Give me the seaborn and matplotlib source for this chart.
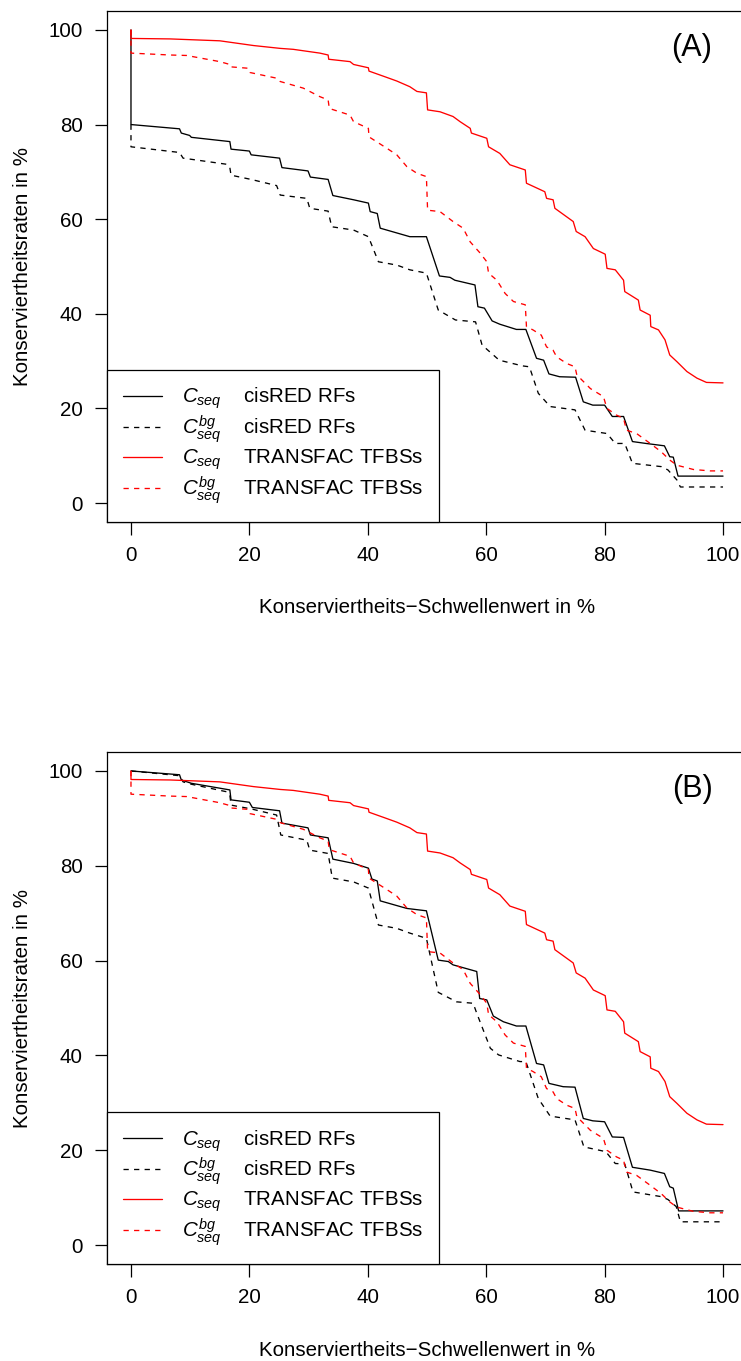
import numpy as np
import pandas as pd
import matplotlib
matplotlib.use("Agg")
import matplotlib.pyplot as plt
import seaborn as sns

# ---------------- data ----------------
# TRANSFAC TFBSs, C_seq (same in both panels)
tf_cseq_x = [0, 0, 6.6, 15.0, 20.7, 25.2, 27.4, 31.9, 33.3, 33.4, 37.0, 37.6, 40.1, 40.2, 42.9, 44.9, 47.1, 48.3, 49.9, 50.1,
             52.2, 54.4, 55.6, 57.3, 57.5, 60.1, 60.4, 62.3, 64.0, 66.6, 66.8, 69.9, 70.2, 71.3, 71.6, 74.7, 75.2, 76.7, 78.1, 80.1,
             80.4, 81.8, 83.2, 83.4, 85.7, 86.0, 87.7, 87.8, 89.1, 90.2, 91.0, 92.2, 93.9, 95.6, 97.2, 100]
tf_cseq_y = [100, 98.2, 98.1, 97.7, 96.7, 96.1, 95.9, 95.1, 94.7, 93.8, 93.3, 92.7, 92.0, 91.3, 90.1, 89.2, 88.0, 87.0, 86.7, 83.1,
             82.7, 81.7, 80.6, 79.2, 78.2, 77.1, 75.3, 73.9, 71.5, 70.4, 67.6, 65.8, 64.4, 64.1, 62.3, 59.5, 57.4, 56.3, 53.8, 52.6,
             49.6, 49.3, 47.1, 44.7, 42.9, 40.8, 39.7, 37.3, 36.6, 34.5, 31.3, 29.9, 27.8, 26.4, 25.5, 25.4]

# TRANSFAC TFBSs, C_seq^bg (same in both panels)
tf_bg_x = [0, 0, 6.6, 9.4, 15.0, 16.7, 16.8, 19.8, 20.1, 24.6, 25.2, 29.1, 31.9, 33.3, 33.5, 37.0, 37.6, 40.1, 40.2, 43.2,
           44.9, 46.6, 48.3, 49.9, 50.1, 52.2, 54.4, 56.1, 57.3, 59.0, 60.1, 60.4, 61.8, 63.2, 64.6, 66.6, 66.8, 67.9, 69.3, 70.2,
           71.3, 71.9, 73.6, 75.0, 75.3, 77.6, 79.8, 80.4, 82.0, 83.2, 83.7, 85.4, 87.7, 89.6, 91.0, 92.2, 95.0, 97.8, 100]
tf_bg_y = [100, 95.1, 94.7, 94.6, 93.3, 92.7, 92.2, 91.9, 91.0, 89.8, 89.1, 87.7, 85.9, 85.2, 83.4, 82.0, 80.6, 79.2, 77.4, 75.0,
           73.6, 71.1, 69.7, 69.0, 61.9, 61.6, 59.5, 58.1, 55.2, 52.8, 51.0, 48.6, 47.1, 44.3, 42.6, 41.9, 37.3, 36.6, 35.5, 33.0,
           32.3, 30.9, 29.5, 28.8, 27.1, 24.2, 22.5, 20.0, 18.6, 17.9, 15.4, 14.7, 12.6, 10.8, 9.1, 8.0, 7.1, 6.8, 6.8]

# Panel A, cisRED RFs, C_seq
cisA_cseq_x = [0, 0, 8.2, 8.5, 9.9, 10.2, 16.7, 16.9, 20.0, 20.3, 25.1, 25.5, 29.9, 30.3, 33.3, 34.1, 37.6, 40.1, 40.4, 41.6,
               42.1, 47.1, 49.9, 52.1, 53.9, 54.7, 58.1, 58.6, 59.7, 61.0, 62.3, 65.1, 66.7, 68.5, 69.7, 70.6, 72.4, 75.1, 76.4, 78.0,
               80.0, 81.3, 83.2, 84.7, 87.0, 90.1, 91.0, 91.6, 92.4, 100]
cisA_cseq_y = [100, 80.0, 79.1, 78.2, 77.7, 77.3, 76.4, 74.8, 74.4, 73.6, 72.9, 70.9, 70.2, 68.9, 68.4, 65.0, 64.1, 63.4, 61.6, 61.2,
               58.1, 56.3, 56.3, 48.0, 47.7, 47.1, 46.1, 41.5, 41.2, 38.5, 37.8, 36.7, 36.7, 30.6, 30.2, 27.3, 26.7, 26.6, 21.4, 20.7,
               20.7, 18.3, 18.3, 13.0, 12.6, 12.1, 9.8, 9.7, 5.7, 5.7]

# Panel A, cisRED RFs, C_seq^bg
cisA_bg_x = [0, 0, 8.2, 8.8, 16.2, 16.7, 16.9, 20.3, 24.6, 25.2, 29.7, 30.2, 33.3, 33.9, 37.6, 40.1, 41.8, 44.9, 47.1, 49.9,
             51.9, 54.8, 58.2, 59.3, 62.2, 66.1, 67.3, 68.8, 70.8, 75.0, 76.7, 80.4, 81.8, 83.4, 84.7, 89.6, 90.7, 92.2, 92.8, 100]
cisA_bg_y = [80.0, 75.3, 74.1, 72.9, 71.6, 70.9, 69.3, 68.4, 67.1, 65.1, 64.4, 62.3, 61.7, 58.4, 57.7, 56.3, 51.0, 50.3, 49.3, 48.6,
             40.8, 38.7, 38.3, 33.4, 30.2, 29.0, 28.8, 23.2, 20.4, 19.7, 15.4, 14.7, 12.6, 12.6, 8.4, 7.7, 7.0, 4.9, 3.4, 3.4]

# Panel B, cisRED RFs, C_seq
cisB_cseq_x = [0, 8.2, 8.5, 10.2, 16.7, 16.9, 20.0, 20.5, 25.1, 25.5, 29.9, 30.3, 33.3, 34.1, 37.6, 40.1, 40.7, 41.6, 42.1, 46.6,
               49.9, 51.9, 53.6, 54.4, 58.4, 58.9, 60.1, 61.2, 62.9, 65.1, 66.7, 68.5, 69.7, 70.6, 73.0, 75.0, 76.4, 78.0, 80.0, 81.3,
               83.2, 84.7, 87.7, 90.1, 91.0, 91.6, 92.5, 100]
cisB_cseq_y = [100, 99.2, 98.1, 97.4, 96.0, 93.9, 93.4, 92.3, 91.6, 89.0, 88.0, 86.5, 85.9, 81.4, 80.5, 79.5, 77.2, 76.8, 72.6, 71.0,
               70.5, 60.1, 59.8, 59.1, 57.7, 52.0, 51.7, 48.3, 47.1, 46.2, 46.2, 38.3, 38.0, 34.1, 33.4, 33.3, 26.7, 26.2, 26.0, 22.8,
               22.7, 16.4, 15.8, 15.1, 12.3, 12.0, 7.2, 7.2]

# Panel B, cisRED RFs, C_seq^bg
cisB_bg_x = [0, 8.2, 8.8, 10.2, 16.2, 16.7, 16.9, 20.3, 24.6, 25.3, 29.7, 30.2, 33.3, 34.0, 37.6, 40.1, 41.8, 44.9, 47.1, 49.9,
             51.9, 55.0, 57.8, 58.4, 60.7, 62.1, 65.7, 66.7, 68.8, 70.8, 75.0, 76.5, 80.2, 81.8, 83.4, 84.8, 89.6, 90.7, 92.1, 92.8, 100]
cisB_bg_y = [100, 99.0, 97.7, 97.2, 95.6, 94.9, 92.8, 92.0, 90.7, 86.5, 85.4, 83.3, 82.6, 77.4, 76.6, 75.3, 67.5, 66.8, 65.8, 64.7,
             53.3, 51.3, 51.0, 48.9, 41.5, 40.1, 38.7, 38.7, 30.9, 27.2, 26.4, 20.7, 19.7, 17.2, 17.1, 11.2, 10.2, 9.6, 8.1, 4.9, 4.9]

x_ticks = [0, 20, 40, 60, 80, 100]
y_ticks = [0, 20, 40, 60, 80, 100]
panel_tags = ["(A)", "(B)"]
x_label = "Konserviertheits\u2212Schwellenwert in %"
y_label = "Konserviertheitsraten in %"
legend_labels = [r"$C_{seq}$" + "    cisRED RFs",
                 r"$C_{seq}^{bg}$" + "    cisRED RFs",
                 r"$C_{seq}$" + "    TRANSFAC TFBSs",
                 r"$C_{seq}^{bg}$" + "    TRANSFAC TFBSs"]

# ---------------- style ----------------
sns.set_style("ticks")
plt.rcParams["font.family"] = ["Liberation Sans", "DejaVu Sans"]
plt.rcParams["mathtext.fontset"] = "custom"
plt.rcParams["mathtext.rm"] = "Liberation Sans"
plt.rcParams["mathtext.it"] = "Liberation Sans:italic"
plt.rcParams["mathtext.bf"] = "Liberation Sans:bold"
for k in ["text.color", "axes.labelcolor", "xtick.color", "ytick.color", "axes.edgecolor"]:
    plt.rcParams[k] = "black"

FS = 14.8
W, H = 741, 1361
fig = plt.figure(figsize=(W / 100, H / 100), dpi=100)

ax_w = 639.4
panels = [
    (11.0, 522.0, [(cisA_cseq_x, cisA_cseq_y), (cisA_bg_x, cisA_bg_y)]),
    (752.0, 1264.0, [(cisB_cseq_x, cisB_cseq_y), (cisB_bg_x, cisB_bg_y)]),
]

dash = (0, (4, 4))
for i, (top, bot, cis) in enumerate(panels):
    ax = fig.add_axes([107.3 / W, 1 - bot / H, ax_w / W, (bot - top) / H])
    series = [
        (cis[0][0], cis[0][1], "black", "-"),
        (cis[1][0], cis[1][1], "black", dash),
        (tf_cseq_x, tf_cseq_y, "red", "-"),
        (tf_bg_x, tf_bg_y, "red", dash),
    ]
    for (xs, ys, col, ls), lab in zip(series, legend_labels):
        df = pd.DataFrame({"x": xs, "y": ys})
        sns.lineplot(data=df, x="x", y="y", ax=ax, sort=False, estimator=None,
                     color=col, linestyle=ls, linewidth=0.95, label=lab)

    ax.set_xlim(-4, 104)
    ax.set_ylim(-4, 104)
    ax.set_xticks(x_ticks)
    ax.set_yticks(y_ticks)
    ax.set_xticklabels([str(t) for t in x_ticks])
    ax.set_yticklabels([str(t) for t in y_ticks])
    ax.tick_params(axis="both", direction="out", length=9, width=0.9,
                   labelsize=FS, pad=8.5, color="black", labelcolor="black")
    for name, sp in ax.spines.items():
        sp.set_visible(name != "right")
        sp.set_linewidth(0.9)
        sp.set_color("black")

    ax.set_xlabel(x_label, fontsize=FS, color="black")
    ax.set_ylabel(y_label, fontsize=FS, color="black")
    ax.xaxis.label.set_verticalalignment("center")
    ax.xaxis.set_label_coords(0.5, -86 / (bot - top))
    ax.yaxis.label.set_verticalalignment("center")
    ax.yaxis.set_label_coords(-(107.3 - 23) / ax_w, 0.5)

    ax.text((692 - 107.3) / ax_w, 1 - 37 / (bot - top), panel_tags[i],
            transform=ax.transAxes, ha="center", va="center", fontsize=22, color="black")

    leg = ax.legend(loc="lower left", bbox_to_anchor=(0, 0), borderaxespad=0,
                    fontsize=FS, frameon=True, fancybox=False, shadow=False,
                    handlelength=1.9, handletextpad=0.95, borderpad=0.78,
                    labelspacing=0.1, framealpha=1)
    leg.get_frame().set_edgecolor("black")
    leg.get_frame().set_linewidth(0.9)
    for t in leg.get_texts():
        t.set_color("black")

fig.savefig("out.png", dpi=100)
